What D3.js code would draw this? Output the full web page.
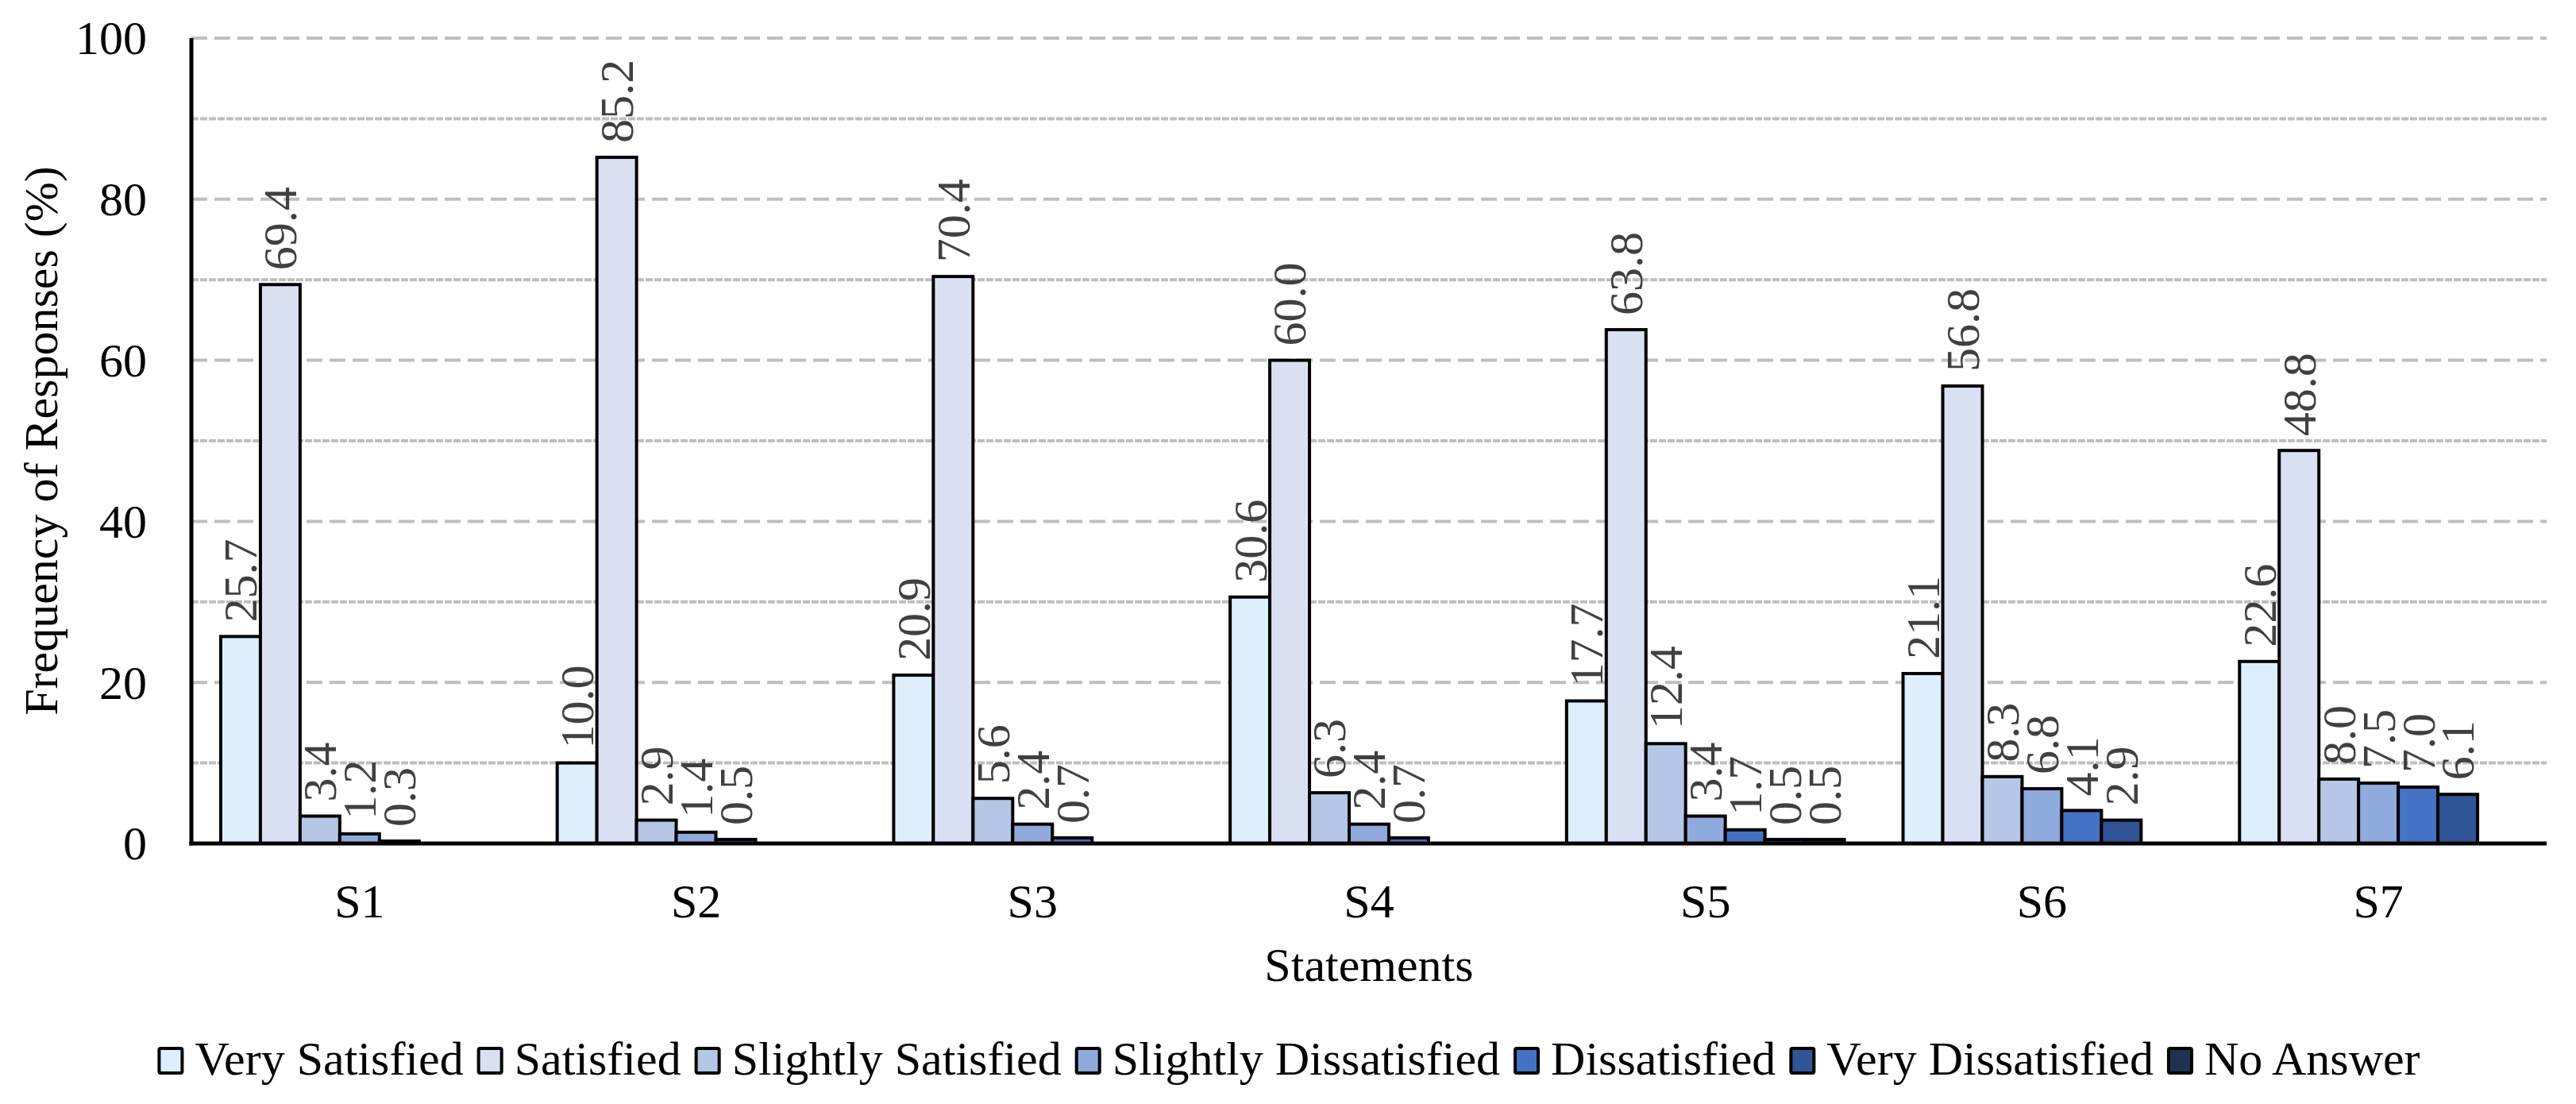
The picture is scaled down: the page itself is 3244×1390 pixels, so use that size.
<!DOCTYPE html>
<html>
<head>
<meta charset="utf-8">
<script src="https://cdn.jsdelivr.net/npm/d3@7"></script>
<style>
  html, body { margin: 0; padding: 0; background: #fff; }
  svg { display: block; font-family: "Liberation Serif", "Times New Roman", serif; }
</style>
</head>
<body>
<svg id="chart" width="3244" height="1390"></svg>
<script>
const statements = ['S1', 'S2', 'S3', 'S4', 'S5', 'S6', 'S7'];
const seriesNames = ['Very Satisfied', 'Satisfied', 'Slightly Satisfied', 'Slightly Dissatisfied', 'Dissatisfied', 'Very Dissatisfied', 'No Answer'];
const seriesColors = ['#ddefff', '#dae0f4', '#b4c7e7', '#8faadc', '#4472c4', '#2f5597', '#1f3150'];

// one array per series, values for S1..S7
const verySatisfied = [25.7, 10.0, 20.9, 30.6, 17.7, 21.1, 22.6];
const satisfied = [69.4, 85.2, 70.4, 60.0, 63.8, 56.8, 48.8];
const slightlySatisfied = [3.4, 2.9, 5.6, 6.3, 12.4, 8.3, 8.0];
const slightlyDissatisfied = [1.2, 1.4, 2.4, 2.4, 3.4, 6.8, 7.5];
const dissatisfied = [0.3, 0.5, 0.7, 0.7, 1.7, 4.1, 7.0];
const veryDissatisfied = [0, 0, 0, 0, 0.5, 2.9, 6.1];
const noAnswer = [0, 0, 0, 0, 0.5, 0, 0];
const seriesValues = [verySatisfied, satisfied, slightlySatisfied, slightlyDissatisfied, dissatisfied, veryDissatisfied, noAnswer];

const yTicks = [0, 20, 40, 60, 80, 100];
const gridValues = [10, 20, 30, 40, 50, 60, 70, 80, 90, 100];

const svg = d3.select('#chart');
const W = 3244;
const plot = { left: 241, right: 3207, top: 48, bottom: 1062 };

const x0 = d3.scaleBand().domain(statements).range([plot.left, plot.right]).padding(0);
const x1 = d3.scaleBand().domain(seriesNames).range([0, x0.bandwidth()]).paddingInner(0).paddingOuter(0.74);
const y = d3.scaleLinear().domain([0, 100]).range([plot.bottom, plot.top]);

// gridlines: majors long dash, minors short dash
svg.append('g').selectAll('line').data(gridValues).join('line')
    .attr('x1', plot.left).attr('x2', plot.right)
    .attr('y1', d => y(d)).attr('y2', d => y(d))
    .attr('stroke', '#bfbfbf').attr('stroke-width', 4)
    .attr('stroke-dasharray', d => d % 20 === 0 ? '20,9' : '9,2');

// flatten to bar records
const bars = [];
statements.forEach((s, i) => {
    seriesNames.forEach((name, k) => {
        const v = seriesValues[k][i];
        if (v > 0) bars.push({ s, name, k, v });
    });
});

svg.append('g').selectAll('rect').data(bars).join('rect')
    .attr('x', d => x0(d.s) + x1(d.name))
    .attr('y', d => y(d.v))
    .attr('width', x1.bandwidth())
    .attr('height', d => y(0) - y(d.v))
    .attr('fill', d => seriesColors[d.k])
    .attr('stroke', '#000').attr('stroke-width', 4);

// rotated value labels
svg.append('g').selectAll('text').data(bars).join('text')
    .attr('transform', d => `translate(${x0(d.s) + x1(d.name) + x1.bandwidth() / 2},${y(d.v) - 18}) rotate(-90)`)
    .attr('dy', '0.34em')
    .attr('text-anchor', 'start')
    .attr('fill', '#404040')
    .attr('font-size', 60)
    .text(d => d.v.toFixed(1));

// axes lines
svg.append('line').attr('x1', plot.left).attr('x2', plot.left)
    .attr('y1', plot.top).attr('y2', plot.bottom + 2.5)
    .attr('stroke', '#000').attr('stroke-width', 5);
svg.append('line').attr('x1', plot.left - 2.5).attr('x2', plot.right)
    .attr('y1', plot.bottom).attr('y2', plot.bottom)
    .attr('stroke', '#000').attr('stroke-width', 5);

// y tick labels
svg.append('g').selectAll('text').data(yTicks).join('text')
    .attr('x', 185).attr('y', d => y(d)).attr('dy', '0.34em')
    .attr('text-anchor', 'end').attr('font-size', 60).attr('fill', '#000')
    .text(d => d);

// x tick labels
svg.append('g').selectAll('text').data(statements).join('text')
    .attr('x', d => x0(d) + x0.bandwidth() / 2).attr('y', 1155)
    .attr('text-anchor', 'middle').attr('font-size', 60).attr('fill', '#000')
    .text(d => d);

// axis titles
svg.append('text').attr('x', (plot.left + plot.right) / 2).attr('y', 1235)
    .attr('text-anchor', 'middle').attr('font-size', 60).text('Statements');
svg.append('text')
    .attr('transform', `translate(72,${(plot.top + plot.bottom) / 2}) rotate(-90)`)
    .attr('text-anchor', 'middle').attr('font-size', 60).text('Frequency of Responses (%)');

// legend, centred on the page
const legend = svg.append('g');
const items = legend.selectAll('g').data(seriesNames).join('g');
items.append('rect').attr('width', 29).attr('height', 31).attr('y', -33)
    .attr('fill', (d, i) => seriesColors[i]).attr('stroke', '#000').attr('stroke-width', 4).attr('rx', 2);
items.append('text').attr('x', 45).attr('font-size', 60).text(d => d);
let cx = 0;
items.each(function () {
    d3.select(this).attr('transform', `translate(${cx},0)`);
    const tw = d3.select(this).select('text').node().getComputedTextLength();
    cx += 45 + tw + 19;
});
const legendW = cx - 19;
legend.attr('transform', `translate(${(W - legendW) / 2 + 2},1353)`);
</script>
</body>
</html>
